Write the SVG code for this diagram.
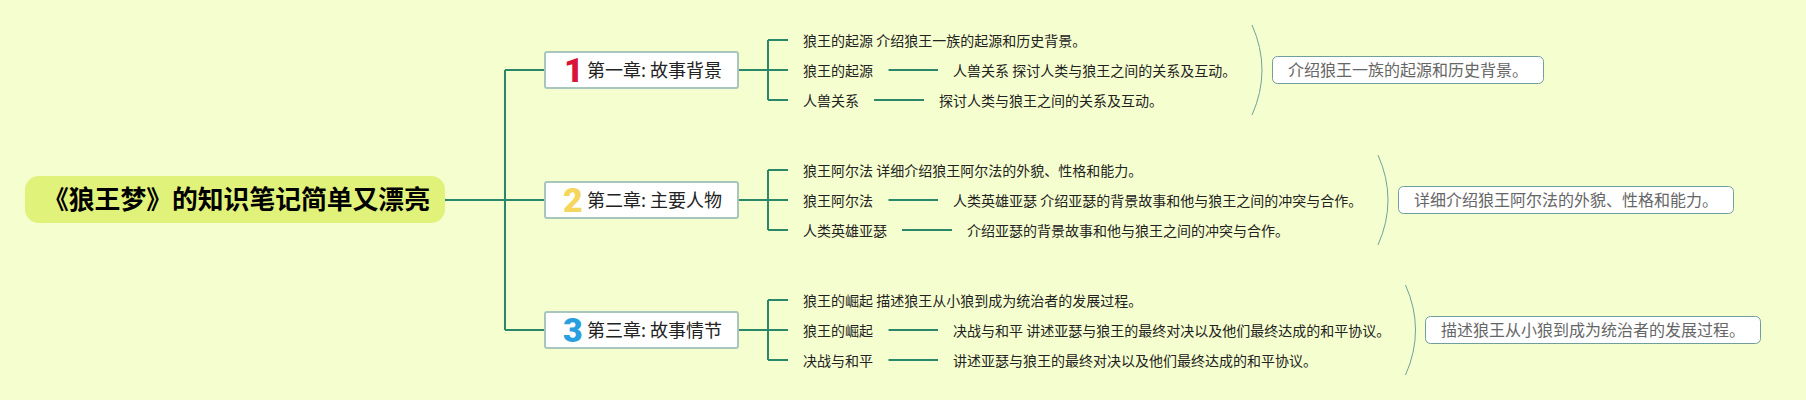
<svg xmlns="http://www.w3.org/2000/svg" width="1806" height="400" viewBox="0 0 1806 400">
<style>
text{font-family:"Noto Sans CJK SC","Noto Sans",sans-serif;fill:#222}
.c{fill:none;stroke:#2a8768;stroke-width:2}
.b{fill:none;stroke:#6fa398;stroke-width:1}
.root{fill:#e0f27a}
.rt{font-size:25.800px;font-weight:700;fill:#000}
.box{fill:#fff;stroke:#a9c6bc;stroke-width:2}
.bt{font-size:18px;font-weight:400;fill:#222}
.num{font-family:"Roboto","Liberation Sans",sans-serif;font-size:34px;font-weight:900}
.t{font-size:14px;font-weight:400;fill:#222}
.nb{fill:#fff;stroke:#6f9e9c;stroke-width:1}
.nt{font-size:16px;font-weight:400;fill:#666}
</style>
<rect width="1806" height="400" fill="#f5fece"/>
<g id="connectors">
<path class="c" d="M445 200H545M505 70V330M505 70H545M505 330H545"/>
<path class="c" d="M738 70H768M768 40V100M768 40H788M768 70H788M768 100H788M888.500 70H938M874 100H924"/>
<path class="c" d="M738 200H768M768 170V230M768 170H788M768 200H788M768 230H788M888.500 200H938M902 230H952"/>
<path class="c" d="M738 330H768M768 300V360M768 300H788M768 330H788M768 360H788M888.500 330H938M888.500 360H938"/>
<path class="b" d="M1252 25Q1272 70 1252 115"/>
<path class="b" d="M1378 155Q1398 200 1378 245"/>
<path class="b" d="M1405.500 285Q1425.500 330 1405.500 375"/>
</g>
<g id="root"><rect class="root" x="25" y="176" width="420" height="47" rx="14"/><text class="rt" x="43" y="209">《狼王梦》的知识笔记简单又漂亮</text></g>
<g id="ch1"><rect class="box" x="545" y="52" width="193" height="36" rx="2"/><text class="num" x="564" y="82" style="fill:#d9143a">1</text><text class="bt" x="587" y="77">第一章: 故事背景</text></g>
<g id="ch2"><rect class="box" x="545" y="182" width="193" height="36" rx="2"/><text class="num" x="563" y="212" style="fill:#f4d75c">2</text><text class="bt" x="587" y="207">第二章: 主要人物</text></g>
<g id="ch3"><rect class="box" x="545" y="312" width="193" height="36" rx="2"/><text class="num" x="563" y="342" style="fill:#2a9fe0">3</text><text class="bt" x="587" y="337">第三章: 故事情节</text></g>
<g id="leaf1a"><text class="t" x="803" y="46">狼王的起源 介绍狼王一族的起源和历史背景。</text></g>
<g id="leaf1b"><text class="t" x="803" y="75.500">狼王的起源</text></g>
<g id="leaf1b2"><text class="t" x="953" y="75.500">人兽关系 探讨人类与狼王之间的关系及互动。</text></g>
<g id="leaf1c"><text class="t" x="803" y="106">人兽关系</text></g>
<g id="leaf1c2"><text class="t" x="939" y="106">探讨人类与狼王之间的关系及互动。</text></g>
<g id="leaf2a"><text class="t" x="803" y="176">狼王阿尔法 详细介绍狼王阿尔法的外貌、性格和能力。</text></g>
<g id="leaf2b"><text class="t" x="803" y="205.500">狼王阿尔法</text></g>
<g id="leaf2b2"><text class="t" x="953" y="205.500">人类英雄亚瑟 介绍亚瑟的背景故事和他与狼王之间的冲突与合作。</text></g>
<g id="leaf2c"><text class="t" x="803" y="236">人类英雄亚瑟</text></g>
<g id="leaf2c2"><text class="t" x="967" y="236">介绍亚瑟的背景故事和他与狼王之间的冲突与合作。</text></g>
<g id="leaf3a"><text class="t" x="803" y="306">狼王的崛起 描述狼王从小狼到成为统治者的发展过程。</text></g>
<g id="leaf3b"><text class="t" x="803" y="335.500">狼王的崛起</text></g>
<g id="leaf3b2"><text class="t" x="953" y="335.500">决战与和平 讲述亚瑟与狼王的最终对决以及他们最终达成的和平协议。</text></g>
<g id="leaf3c"><text class="t" x="803" y="366">决战与和平</text></g>
<g id="leaf3c2"><text class="t" x="953" y="366">讲述亚瑟与狼王的最终对决以及他们最终达成的和平协议。</text></g>
<g id="note1"><rect class="nb" x="1272.500" y="56.500" width="271" height="27" rx="5"/><text class="nt" x="1288" y="76">介绍狼王一族的起源和历史背景。</text></g>
<g id="note2"><rect class="nb" x="1398.500" y="186.500" width="335" height="27" rx="5"/><text class="nt" x="1414" y="206">详细介绍狼王阿尔法的外貌、性格和能力。</text></g>
<g id="note3"><rect class="nb" x="1425.500" y="316.500" width="335" height="27" rx="5"/><text class="nt" x="1441" y="336">描述狼王从小狼到成为统治者的发展过程。</text></g>
</svg>
